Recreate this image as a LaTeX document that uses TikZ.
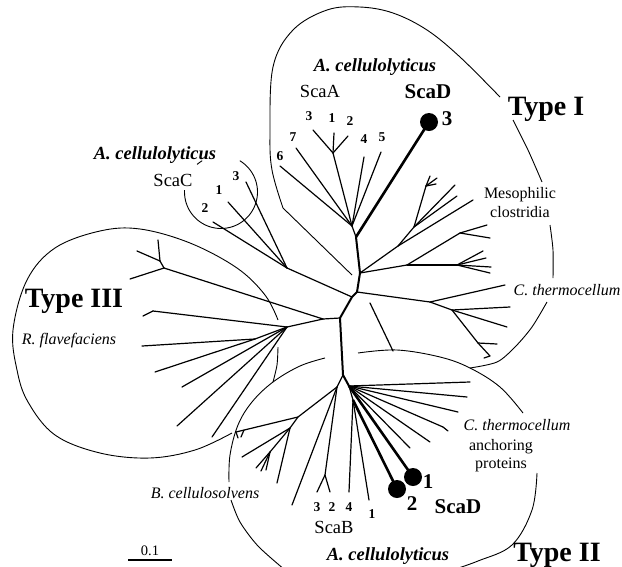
\documentclass[tikz,border=0pt]{standalone}
\usepackage{fontspec}
\setmainfont{Liberation Serif}
\tikzset{
  branch/.style={line width=1.2pt, line cap=round},
  trunk/.style={line width=2pt, line cap=round},
  scadline/.style={line width=2.6pt},
  outline/.style={line width=0.9pt},
  scaddot/.style={circle, fill=black, inner sep=0pt, minimum size=18pt},
  typelab/.style={font=\fontsize{28}{28}\selectfont\bfseries, anchor=base},
  acell/.style={font=\fontsize{18.5}{18.5}\selectfont\bfseries\itshape, anchor=base},
  specname/.style={font=\fontsize{16}{16}\selectfont\itshape, anchor=base},
  plainlab/.style={font=\fontsize{16}{16}\selectfont, anchor=base},
  scalab/.style={font=\fontsize{18.5}{18.5}\selectfont, anchor=base},
  scadlab/.style={font=\fontsize{21}{21}\selectfont\bfseries, anchor=base},
  num/.style={font=\fontsize{13.5}{13.5}\selectfont\bfseries, inner sep=0pt},
}
\begin{document}
\begin{tikzpicture}[x=1pt,y=-1pt]
  \useasboundingbox (0,0) rectangle (622,566);
  % tree points
  \path
    (356,237) coordinate (r1)
    (360,273) coordinate (r2)
    (357,292) coordinate (r3)
    (352,297) coordinate (r4)
    (340,318) coordinate (r5)
    (343,375) coordinate (r6)
    (349,386) coordinate (tr)
    (353,400) coordinate (tb)
    (337,387) coordinate (tl)
    % ScaA
    (352,226) coordinate (a0)
    (280,166) coordinate (a6)
    (296,148) coordinate (a7)
    (364,157) coordinate (a4)
    (381,152) coordinate (a5)
    (333,153) coordinate (a123)
    (313,130) coordinate (a3)
    (334,133) coordinate (a1)
    (348,136) coordinate (a2)
    % mesophilic clostridia
    (398,246) coordinate (m1)
    (473,200) coordinate (ml)
    (414,227) coordinate (m2)
    (426,186) coordinate (mf)
    (430,176) coordinate (mfa)
    (437,178) coordinate (mfb)
    (436,184) coordinate (mfc)
    (455,185) coordinate (mg)
    (457,196) coordinate (mh)
    (407,265) coordinate (md)
    (460,233) coordinate (me)
    (487,225) coordinate (me1)
    (490,238) coordinate (me2)
    (457,265) coordinate (mk)
    (483,251) coordinate (mk1)
    (486,258) coordinate (mk2)
    (491,267) coordinate (mk3)
    (490,273) coordinate (mk4)
    % C. thermocellum
    (430,302) coordinate (c1)
    (505,285) coordinate (cl)
    (452,310) coordinate (c2)
    (510,307) coordinate (c21)
    (507,327) coordinate (c22)
    (478,343) coordinate (c3)
    (497,344) coordinate (c31)
    (490,356) coordinate (c32)
    (484,358) coordinate (c33)
    (370,303) coordinate (cx1)
    (393,351) coordinate (cx2)
    % ScaC
    (287,268) coordinate (s0)
    (228,202) coordinate (s1)
    (213,222) coordinate (s2)
    (246,182) coordinate (s3)
    % R. flavefaciens
    (323,319) coordinate (t0)
    (164,268) coordinate (t1)
    (160,261) coordinate (t1a)
    (137,251) coordinate (t11)
    (158,240) coordinate (t12)
    (130,279) coordinate (t13)
    (287,327) coordinate (t2)
    (153,311) coordinate (t2h)
    (143,316) coordinate (t2i)
    (255,339) coordinate (t3)
    (142,346) coordinate (t31)
    (155,372) coordinate (t32)
    (182,387) coordinate (t21)
    (177,426) coordinate (t22)
    (212,437) coordinate (t23)
    % anchoring proteins
    (470,382) coordinate (e1)
    (467,397) coordinate (e2)
    (458,412) coordinate (e3)
    (443,427) coordinate (e4)
    (448,431) coordinate (e4a)
    (430,442) coordinate (e5)
    (410,448) coordinate (e6)
    % ScaB
    (349,492) coordinate (bB4)
    (369,500) coordinate (bB1)
    (325,475) coordinate (b32)
    (317,492) coordinate (bB3)
    (330,492) coordinate (bB2)
    (292,505) coordinate (bl)
    % B. cellulosolvens
    (298,417) coordinate (b1)
    (236,432) coordinate (bt)
    (238,438) coordinate (btw)
    (244,430) coordinate (tw0)
    (241,437) coordinate (tw0e)
    (290,428) coordinate (bg)
    (242,457) coordinate (bg1)
    (270,452) coordinate (bh)
    (256,468) coordinate (bh1)
    (261,471) coordinate (bh2)
    (266,470) coordinate (bh3)
    (277,483) coordinate (bg2);
  \node[scaddot] (d3) at (429,122) {};
  \node[scaddot] (d1) at (413,477) {};
  \node[scaddot] (d2) at (397,489) {};
  % backbone
  \begin{scope}[trunk]
    \draw (r1) -- (r2) -- (r3) -- (r4) -- (r5) -- (r6) -- (tr);
  \end{scope}
  \begin{scope}[scadline]
    \draw (r1) to (d3.center);
    \draw (tr) to (d1.center);
    \draw (tb) to (d2.center);
  \end{scope}
  \begin{scope}[branch]
    \draw (r1) to (a0);
    \draw (a0) to (a6);
    \draw (a0) to (a7);
    \draw (a0) to (a4);
    \draw (a0) to (a5);
    \draw (a0) to (a123);
    \draw (a123) to (a3);
    \draw (a123) to (a1);
    \draw (a123) to (a2);
    \draw (r2) to (m1);
    \draw (m1) to (ml);
    \draw (m1) to (m2);
    \draw (m2) to (mf);
    \draw (mf) to (mfa);
    \draw (mf) to (mfb);
    \draw (mf) to (mfc);
    \draw (m2) to (mg);
    \draw (m2) to (mh);
    \draw (r2) to (md);
    \draw (md) to (me);
    \draw (me) to (me1);
    \draw (me) to (me2);
    \draw (md) to (mk);
    \draw (mk) to (mk1);
    \draw (mk) to (mk2);
    \draw (mk) to (mk3);
    \draw (mk) to (mk4);
    \draw (r3) to (c1);
    \draw (c1) to (cl);
    \draw (c1) to (c2);
    \draw (c2) to (c21);
    \draw (c2) to (c22);
    \draw (c2) to (c3);
    \draw (c3) to (c31);
    \draw (c3) to (c32);
    \draw (c32) to (c33);
    \draw (cx1) to (cx2);
    \draw (r4) to (s0);
    \draw (s0) to (s1);
    \draw (s0) to (s2);
    \draw (s0) to (s3);
    \draw (r5) to (t0);
    \draw (t0) to (t1);
    \draw (t1) to (t1a);
    \draw (t1a) to (t11);
    \draw (t1a) to (t12);
    \draw (t1) to (t13);
    \draw (t0) to (t2);
    \draw (t2) to (t2h);
    \draw (t2h) to (t2i);
    \draw (t2) to (t3);
    \draw (t3) to (t31);
    \draw (t3) to (t32);
    \draw (t2) to (t21);
    \draw (t2) to (t22);
    \draw (t2) to (t23);
    \draw (tr) to (e1);
    \draw (tr) to (e2);
    \draw (tr) to (e3);
    \draw (tr) to (e4);
    \draw (e4) to (e4a);
    \draw (tr) to (e5);
    \draw (tr) to (e6);
    \draw (tr) to (tb);
    \draw (tb) to (bB4);
    \draw (tb) to (bB1);
    \draw (r6) to (tl);
    \draw (tl) to (bl);
    \draw (tl) to (b32);
    \draw (b32) to (bB3);
    \draw (b32) to (bB2);
    \draw (tl) to (b1);
    \draw (b1) to (bt);
    \draw (bt) to (btw);
    \draw (tw0) to (tw0e);
    \draw (b1) to (bg);
    \draw (bg) to (bg1);
    \draw (bg) to (bh);
    \draw (bh) to (bh1);
    \draw (bh) to (bh2);
    \draw (bh) to (bh3);
    \draw (bg) to (bg2);
  \end{scope}
  % group outlines
  \begin{scope}[outline]
    \draw (352,275) -- plot[smooth, tension=0.6] coordinates {(283,208) (272,170) (270,133) (273,67) (293,30) (327,10) (360,7) (393,13) (427,30) (460,57) (500,97)};
    \draw plot[smooth] coordinates {(513,120) (528,150) (542,182)};
    \draw plot[smooth] coordinates {(550,225) (553,250) (553,278)};
    \draw plot[smooth] coordinates {(547,302) (532,327) (515,347) (497,362) (470,368)};
    \draw plot[smooth, tension=0.6] coordinates {(278,320) (265,295) (237,268) (190,243) (140,229) (100,231) (55,248) (27,280) (13,330) (17,370) (28,402) (55,435) (100,453) (150,458) (195,450) (232,433)};
    \draw plot[smooth] coordinates {(278,347) (277,365) (273,382)};
    \draw plot[smooth, tension=0.6] coordinates {(325,358) (300,366) (273,382) (252,402) (238,425) (230,455) (229,482)};
    \draw plot[smooth] coordinates {(231,500) (240,522) (258,546) (285,570)};
    \draw plot[smooth, tension=0.6] coordinates {(358,353) (397,350) (440,357) (470,368) (500,387) (523,413)};
    \draw plot[smooth, tension=0.6] coordinates {(537,473) (532,510) (512,545) (478,561) (452,570)};
    \draw plot[domain=59:-183, samples=60] ({221+36.5*cos(\x)},{192-36.5*sin(\x)});
    \draw plot[domain=121:131, samples=8] ({221+36.5*cos(\x)},{192-36.5*sin(\x)});
  \end{scope}
  % labels
  \node[typelab] (typeI) at (546,115) {Type I};
  \node[typelab] (typeII) at (557,561) {Type II};
  \node[typelab] (typeIII) at (74,307) {Type III};
  \node[acell] (acellA) at (375,71) {A. cellulolyticus};
  \node[acell] (acellC) at (155,159) {A. cellulolyticus};
  \node[acell] (acellB) at (388,560) {A. cellulolyticus};
  \node[scalab] (scaA) at (320,97) {ScaA};
  \node[scalab] (scaC) at (173,186) {ScaC};
  \node[scalab] (scaB) at (334,533) {ScaB};
  \node[scadlab] (scaDup) at (428,98) {ScaD};
  \node[scadlab] (scaDlow) at (458,513) {ScaD};
  \node[scadlab] (d3lab) at (447,125) {3};
  \node[scadlab] (d1lab) at (428,488) {1};
  \node[scadlab] (d2lab) at (412,510) {2};
  \node[num] (n3) at (309,116) {3};
  \node[num] (n1) at (332,118) {1};
  \node[num] (n2) at (350,121) {2};
  \node[num] (n7) at (293,137) {7};
  \node[num] (n4) at (364,139) {4};
  \node[num] (n5) at (382,137) {5};
  \node[num] (n6) at (280,156) {6};
  \node[num] (c3lab) at (236,176) {3};
  \node[num] (c1lab) at (219,190) {1};
  \node[num] (c2lab) at (205,208) {2};
  \node[num] (b3lab) at (317,507) {3};
  \node[num] (b2lab) at (332,507) {2};
  \node[num] (b4lab) at (349,507) {4};
  \node[num] (b1lab) at (372,514) {1};
  \node[plainlab] (meso) at (520,198) {Mesophilic};
  \node[plainlab] (clost) at (520,217) {clostridia};
  \node[specname] (cthermo) at (567,295) {C. thermocellum};
  \node[specname] (cthermo2) at (517,430) {C. thermocellum};
  \node[plainlab] (anch) at (501,450) {anchoring};
  \node[plainlab] (prot) at (501,468) {proteins};
  \node[specname] (rflav) at (69,344) {R. flavefaciens};
  \node[specname] (bcell) at (205,498) {B. cellulosolvens};
  \node[font=\fontsize{14.5}{14.5}\selectfont, anchor=base] (scale) at (150,555) {0.1};
  \coordinate (barL) at (128,560);
  \coordinate (barR) at (172,560);
  \draw[line width=2pt] (barL) -- (barR);
\end{tikzpicture}
\end{document}
